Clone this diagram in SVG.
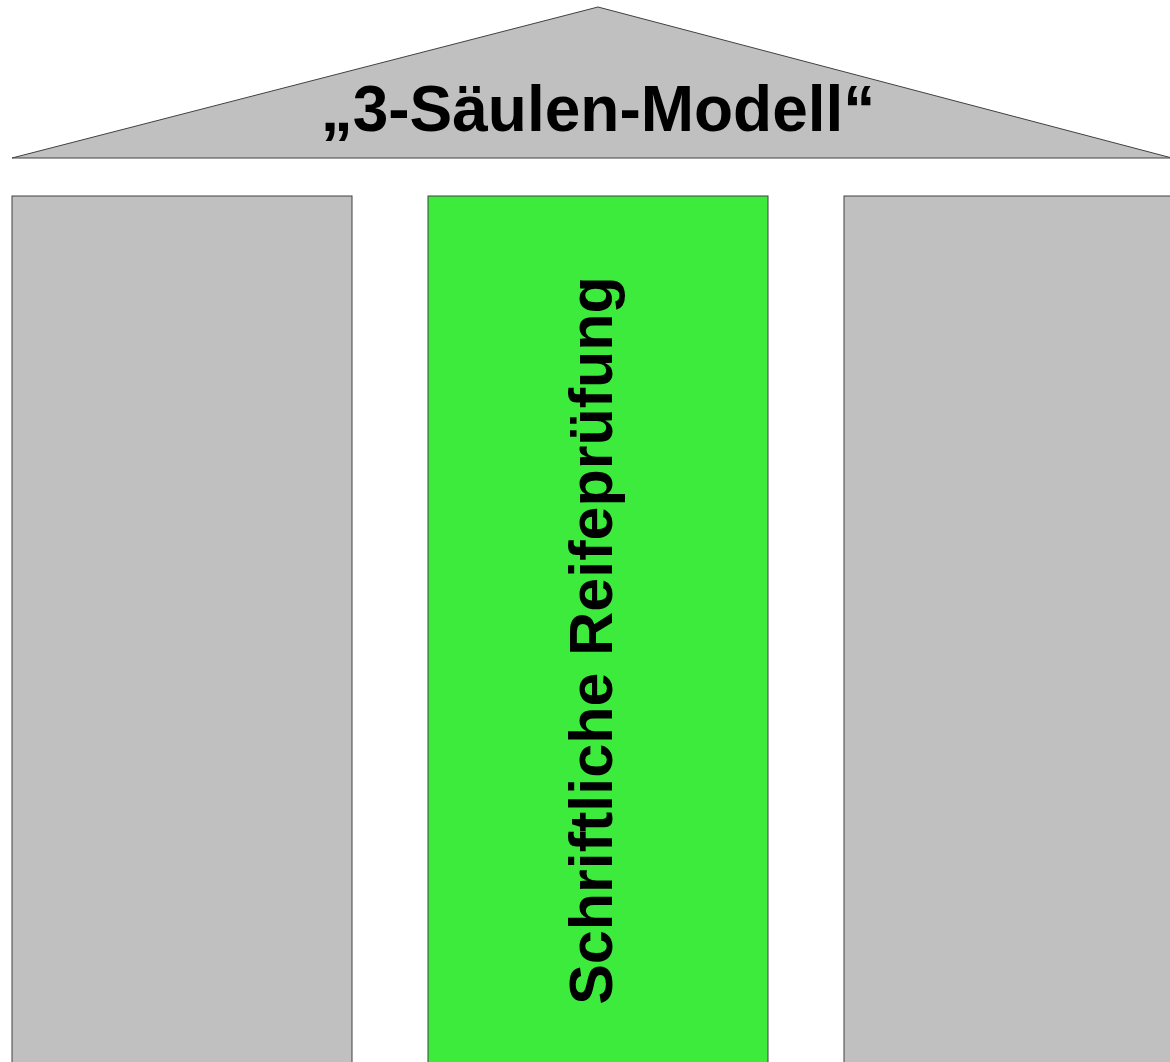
<svg xmlns="http://www.w3.org/2000/svg" width="1170" height="1062" viewBox="0 0 1170 1062">
<style>
.gray{fill:#c0c0c0;stroke:#404040;stroke-width:1}
.green{fill:#3deb3d;stroke:#404040;stroke-width:1}
.t{font-family:"Liberation Sans",Arial,sans-serif;font-weight:bold;fill:#000}
</style>
<rect width="1170" height="1062" fill="#fff"/>
<g id="roof">
<polygon class="gray" points="12,158 598,7 1172,158"/>
<text class="t" x="598" y="131" font-size="64" text-anchor="middle">„3-Säulen-Modell“</text>
</g>
<g id="pillar-left">
<rect class="gray" x="12" y="196" width="340" height="880"/>
</g>
<g id="pillar-middle">
<rect class="green" x="428" y="196" width="340" height="880"/>
<text class="t" font-size="61" text-anchor="middle" transform="translate(612,640.5) rotate(-90)">Schriftliche Reifeprüfung</text>
</g>
<g id="pillar-right">
<rect class="gray" x="844" y="196" width="340" height="880"/>
</g>
<g id="connectors"/>
</svg>
